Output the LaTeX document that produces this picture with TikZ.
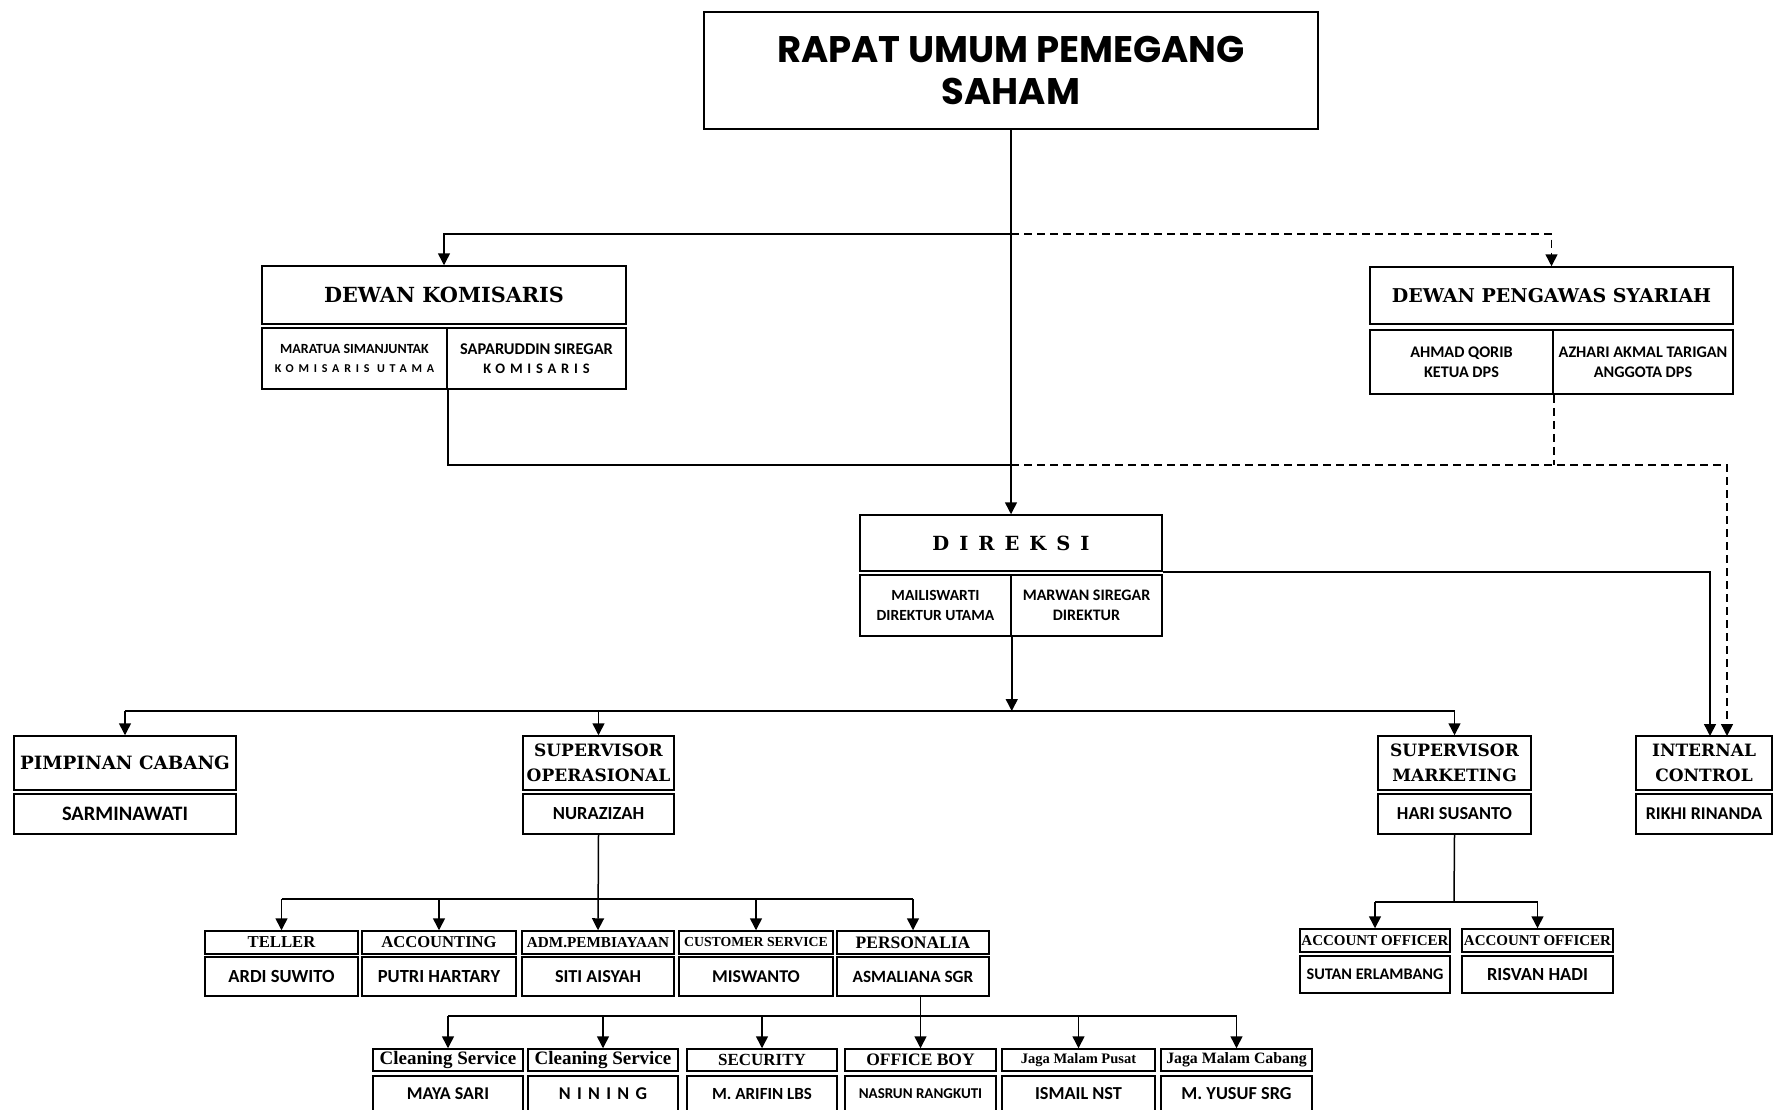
\documentclass[tikz,border=0pt]{standalone}
\usepackage{fontspec}
\usetikzlibrary{fit,arrows.meta}
\newfontfamily\hdr{DejaVu Serif}
\newfontfamily\hds{Liberation Serif}
\newfontfamily\nmf{Carlito}
\newfontfamily\popf{Poppins}
\newcommand\fs[2]{\fontsize{#1}{#2}\selectfont}
% \bx{name}{x1}{y1}{x2}{y2}{font}{text}   single line
\newcommand\bx[7]{\node[bx, fit={(#2,#3)(#4,#5)}] (#1) {};
  \node[txt, font={#6}] (#1-t) at (#1.center) {#7};}
% \bm{name}{x1}{y1}{x2}{y2}{font}{text}   several lines
\newcommand\bm[7]{\node[bx, fit={(#2,#3)(#4,#5)}] (#1) {};
  \node[txt, font={#6}, align=center] (#1-t) at (#1.center) {#7};}
\tikzset{
  bx/.style={draw, line width=1.5pt, inner sep=0pt},
  txt/.style={inner sep=0pt, anchor=center},
  con/.style={line width=1.5pt},
  arr/.style={con, -{Triangle[width=12pt,length=12pt]}},
  dsh/.style={con, dash pattern=on 8pt off 5pt},
}
\begin{document}
\begin{tikzpicture}[x=1pt,y=-1pt]
\useasboundingbox (0,0) rectangle (1774,1109);
\clip (0,0) rectangle (1774,1109);

% top
\bm{rups}{704}{12}{1318}{129}{\popf\bfseries\fs{37}{42}}{RAPAT UMUM PEMEGANG\\SAHAM}

% Dewan Komisaris
\bx{dk}{262}{266}{626}{324}{\hdr\bfseries\fs{20.8}{24}}{DEWAN KOMISARIS}
\bm{dka}{262}{328}{447}{389}{\nmf\bfseries\fs{14}{19}}{MARATUA SIMANJUNTAK\\{\addfontfeature{LetterSpace=40}\fontsize{12}{19}\selectfont KOMISARIS UTAMA}}
\bm{dkb}{447}{328}{626}{389}{\nmf\bfseries\fs{16.4}{19}}{SAPARUDDIN SIREGAR\\{\addfontfeature{LetterSpace=33}\fontsize{14.5}{19}\selectfont KOMISARIS}}

% Dewan Pengawas Syariah
\bx{dps}{1370}{267}{1733}{324}{\hdr\bfseries\fs{19}{24}}{DEWAN PENGAWAS SYARIAH}
\bm{dpsa}{1370}{330}{1553}{394}{\nmf\bfseries\fs{16.2}{20}}{AHMAD QORIB\\KETUA DPS}
\bm{dpsb}{1553}{330}{1733}{394}{\nmf\bfseries\fs{16.2}{20}}{AZHARI AKMAL TARIGAN\\ANGGOTA DPS}

% Direksi
\bx{dir}{860}{515}{1162}{571}{\hdr\bfseries\fs{19.5}{24}}{D\hspace{10pt}I\hspace{10pt}R\hspace{10pt}E\hspace{10pt}K\hspace{10pt}S\hspace{10pt}I}
\bm{dira}{860}{575}{1011}{636}{\nmf\bfseries\fs{15.5}{19.5}}{MAILISWARTI\\DIREKTUR UTAMA}
\bm{dirb}{1011}{575}{1162}{636}{\nmf\bfseries\fs{16}{19.5}}{MARWAN SIREGAR\\DIREKTUR}

% row 1
\bx{pc}{14}{736}{236}{790}{\hdr\bfseries\fs{18.3}{24}}{PIMPINAN CABANG}
\bx{pc2}{14}{794}{236}{834}{\nmf\bfseries\fs{20.5}{22}}{SARMINAWATI}
\bm{so}{523}{736}{674}{790}{\hdr\bfseries\fs{17}{24.5}}{SUPERVISOR\\OPERASIONAL}
\bx{so2}{523}{794}{674}{834}{\nmf\bfseries\fs{18.5}{22}}{NURAZIZAH}
\bm{sm}{1378}{736}{1531}{790}{\hdr\bfseries\fs{17}{24.5}}{SUPERVISOR\\MARKETING}
\bx{sm2}{1378}{794}{1531}{834}{\nmf\bfseries\fs{18.3}{22}}{HARI SUSANTO}
\bm{ic}{1636}{736}{1772}{790}{\hdr\bfseries\fs{17}{24.5}}{INTERNAL\\CONTROL}
\bx{ic2}{1636}{794}{1772}{834}{\nmf\bfseries\fs{18}{22}}{RIKHI RINANDA}

% row 2 (operasional)
\bx{tel}{205}{931}{358}{954}{\hds\bfseries\fs{16.7}{20}}{TELLER}
\bx{tel2}{205}{957}{358}{996}{\nmf\bfseries\fs{18.5}{22}}{ARDI SUWITO}
\bx{acc}{362}{931}{516}{954}{\hds\bfseries\fs{16.6}{20}}{ACCOUNTING}
\bx{acc2}{362}{957}{516}{996}{\nmf\bfseries\fs{18.5}{22}}{PUTRI HARTARY}
\bx{adm}{522}{931}{674}{954}{\hds\bfseries\fs{15.2}{20}}{ADM.PEMBIAYAAN}
\bx{adm2}{522}{957}{674}{996}{\nmf\bfseries\fs{18.2}{22}}{SITI AISYAH}
\bx{cs}{679}{931}{833}{954}{\hds\bfseries\fs{13.8}{20}}{CUSTOMER SERVICE}
\bx{cs2}{679}{957}{833}{996}{\nmf\bfseries\fs{18}{22}}{MISWANTO}
\bx{pers}{837}{931}{989}{954}{\hds\bfseries\fs{17.5}{20}}{PERSONALIA}
\bx{pers2}{837}{957}{989}{996}{\nmf\bfseries\fs{17.2}{22}}{ASMALIANA SGR}

% row 2 (marketing)
\bx{ao1}{1300}{929}{1450}{952}{\hds\bfseries\fs{15}{20}}{ACCOUNT OFFICER}
\bx{ao1b}{1300}{956}{1450}{993}{\nmf\bfseries\fs{16.2}{22}}{SUTAN ERLAMBANG}
\bx{ao2}{1462}{929}{1613}{952}{\hds\bfseries\fs{15}{20}}{ACCOUNT OFFICER}
\bx{ao2b}{1462}{956}{1613}{993}{\nmf\bfseries\fs{18.5}{22}}{RISVAN HADI}

% row 3
\bx{cl1}{373}{1049}{523}{1071}{\hds\bfseries\fs{19}{20}}{Cleaning Service}
\bx{cl1b}{373}{1076}{523}{1112}{\nmf\bfseries\fs{18}{22}}{MAYA SARI}
\bx{cl2}{528}{1049}{678}{1071}{\hds\bfseries\fs{19}{20}}{Cleaning Service}
\bx{cl2b}{528}{1076}{678}{1112}{\nmf\bfseries\fs{18}{22}\addfontfeature{LetterSpace=35}}{NINING}
\bx{sec}{687}{1049}{837}{1071}{\hds\bfseries\fs{17}{20}}{SECURITY}
\bx{secb}{687}{1076}{837}{1112}{\nmf\bfseries\fs{17}{22}}{M. ARIFIN LBS}
\bx{ob}{845}{1049}{996}{1071}{\hds\bfseries\fs{17.5}{20}}{OFFICE BOY}
\bx{obb}{845}{1076}{996}{1112}{\nmf\bfseries\fs{15}{22}}{NASRUN RANGKUTI}
\bx{jmp}{1002}{1049}{1155}{1071}{\hds\bfseries\fs{14.5}{20}}{Jaga Malam Pusat}
\bx{jmpb}{1002}{1076}{1155}{1112}{\nmf\bfseries\fs{18.3}{22}}{ISMAIL NST}
\bx{jmc}{1161}{1049}{1312}{1071}{\hds\bfseries\fs{15.8}{20}}{Jaga Malam Cabang}
\bx{jmcb}{1161}{1076}{1312}{1112}{\nmf\bfseries\fs{18.3}{22}}{M. YUSUF SRG}

% junctions
\coordinate (j1) at (1011,234);
\coordinate (j2) at (1011,465);
\coordinate (bus1) at (1011,711);
\coordinate (bus2) at (598,899);
\coordinate (bus3) at (919,1016);
\coordinate (bus4) at (1454,902);
\coordinate (icA) at (1710,736);
\coordinate (icB) at (1727,736);

% connectors top
\draw[arr] (rups.south) -- (dir.north);
\draw[arr] (j1) -| (dk.north);
\draw[dsh, -{Triangle[width=12pt,length=12pt]}] (j1) -| (dps.north);
\draw[con] (dka.south east) |- (j2);
\draw[dsh] (dpsa.south east) -- (dpsa.south east |- j2);
\draw[dsh, -{Triangle[width=12pt,length=12pt]}] (j2) -| (icB);
\draw[arr] (dir.south east) -| (icA);

% direksi to row 1
\draw[arr] (dira.south east) -- (dira.south east |- bus1);
\draw[con] (pc.north |- bus1) -- (sm.north |- bus1);
\draw[arr] (pc.north |- bus1) -- (pc.north);
\draw[arr] (so.north |- bus1) -- (so.north);
\draw[arr] (sm.north |- bus1) -- (sm.north);

% operasional to row 2
\draw[arr] (so2.south) -- (adm.north);
\draw[con] (tel.north |- bus2) -- (pers.north |- bus2);
\draw[arr] (tel.north |- bus2) -- (tel.north);
\draw[arr] (acc.north |- bus2) -- (acc.north);
\draw[arr] (cs.north |- bus2) -- (cs.north);
\draw[arr] (pers.north |- bus2) -- (pers.north);

% personalia to row 3
\draw[arr] (ob.north |- pers2.south) -- (ob.north);
\draw[con] (cl1.north |- bus3) -- (jmc.north |- bus3);
\draw[arr] (cl1.north |- bus3) -- (cl1.north);
\draw[arr] (cl2.north |- bus3) -- (cl2.north);
\draw[arr] (sec.north |- bus3) -- (sec.north);
\draw[arr] (jmp.north |- bus3) -- (jmp.north);
\draw[arr] (jmc.north |- bus3) -- (jmc.north);

% marketing to account officers
\draw[con] (sm2.south) -- (bus4);
\draw[con] (ao1.north |- bus4) -- (ao2.north |- bus4);
\draw[arr] (ao1.north |- bus4) -- (ao1.north);
\draw[arr] (ao2.north |- bus4) -- (ao2.north);
\end{tikzpicture}
\end{document}
